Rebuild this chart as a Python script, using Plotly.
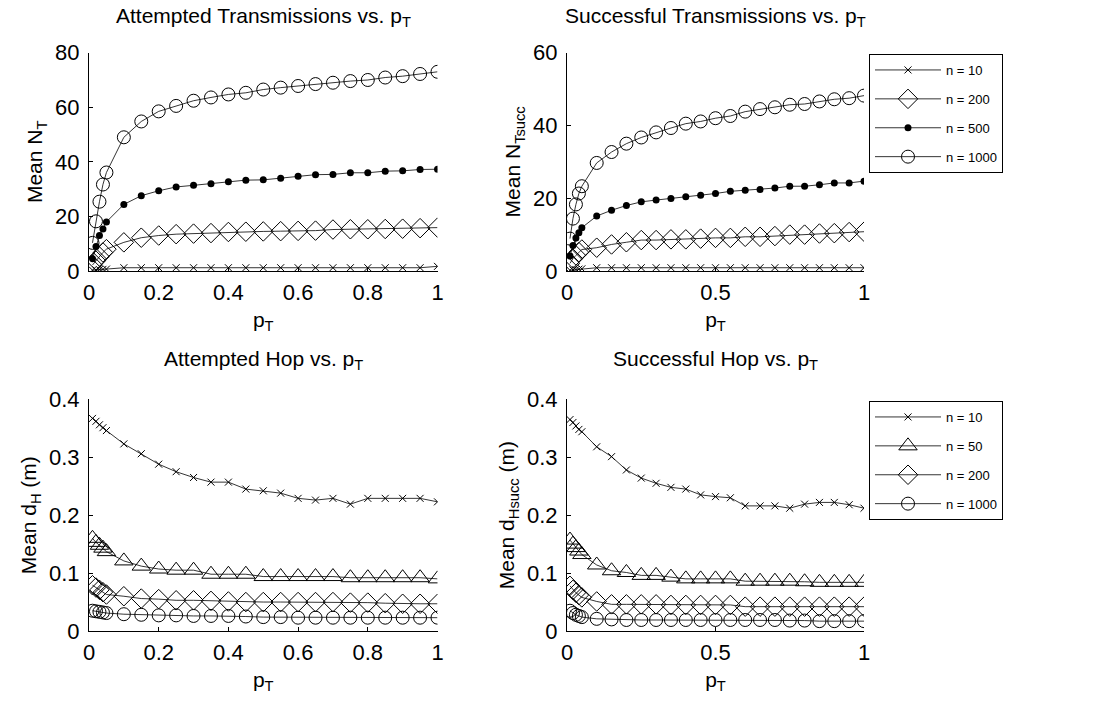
import plotly.graph_objects as go

# transmission probability values used in the simulations
p_T = [0.01, 0.02, 0.03, 0.04, 0.05, 0.10, 0.15, 0.20, 0.25, 0.30, 0.35, 0.40,
       0.45, 0.50, 0.55, 0.60, 0.65, 0.70, 0.75, 0.80, 0.85, 0.90, 0.95, 1.00]

# mean number of attempted transmissions
att_tx_n10 = [0.3, 0.4, 0.5, 0.6, 0.7, 1.2, 1.2, 1.2, 1.2, 1.2, 1.2, 1.2,
              1.2, 1.2, 1.2, 1.2, 1.2, 1.2, 1.2, 1.2, 1.2, 1.2, 1.2, 1.7]
att_tx_n200 = [2.2, 3.8, 5.3, 6.8, 8.0, 10.5, 12.2, 13.0, 13.5, 13.7, 13.9, 14.3,
               14.4, 14.5, 14.6, 14.7, 14.8, 15.2, 15.3, 15.3, 15.4, 15.5, 15.7, 15.9]
att_tx_n500 = [4.5, 9.0, 13.0, 15.4, 18.0, 24.4, 27.6, 29.4, 30.8, 31.4, 32.0, 32.7,
               33.3, 33.4, 34.0, 34.7, 35.3, 35.4, 36.0, 36.0, 36.6, 36.7, 37.2, 37.3]
att_tx_n1000 = [10.3, 18.2, 25.4, 31.7, 36.1, 49.0, 54.8, 58.5, 60.5, 62.4, 63.6, 64.7,
                65.3, 66.5, 67.2, 67.8, 68.5, 69.0, 69.6, 70.0, 70.9, 71.4, 72.2, 73.0]

# mean number of successful transmissions
suc_tx_n10 = [0.2, 0.3, 0.4, 0.5, 0.6, 0.9, 0.9, 0.9, 0.9, 0.9, 0.9, 0.9,
              0.9, 0.9, 0.9, 0.9, 0.9, 0.9, 0.9, 0.9, 0.9, 0.9, 0.9, 0.9]
suc_tx_n200 = [2.1, 3.4, 4.3, 5.2, 5.9, 6.4, 7.3, 7.9, 8.5, 8.5, 8.7, 8.7,
               8.9, 9.1, 9.1, 9.4, 9.4, 9.6, 10.0, 10.0, 10.3, 10.4, 10.7, 10.8]
suc_tx_n500 = [4.1, 7.0, 9.1, 10.5, 11.9, 15.1, 16.7, 18.0, 19.0, 19.5, 19.9, 20.4,
               20.8, 21.3, 21.9, 22.2, 22.4, 22.8, 23.3, 23.3, 23.7, 24.2, 24.2, 24.7]
suc_tx_n1000 = [8.9, 14.4, 18.3, 21.3, 23.3, 29.7, 32.7, 35.0, 36.7, 38.1, 39.3, 40.5,
                41.1, 42.0, 42.6, 43.8, 44.5, 45.0, 45.7, 45.9, 46.6, 47.2, 47.5, 48.2]

# mean attempted hop distance (m)
att_hop_n10 = [0.367, 0.362, 0.356, 0.351, 0.346, 0.323, 0.306, 0.288, 0.275, 0.265, 0.257, 0.257,
               0.245, 0.242, 0.238, 0.229, 0.226, 0.229, 0.219, 0.229, 0.229, 0.229, 0.229, 0.223]
att_hop_n50 = [0.160, 0.153, 0.148, 0.143, 0.137, 0.121, 0.112, 0.107, 0.105, 0.105, 0.098, 0.098,
               0.098, 0.094, 0.094, 0.094, 0.094, 0.094, 0.092, 0.092, 0.092, 0.092, 0.092, 0.090]
att_hop_n200 = [0.079, 0.075, 0.071, 0.067, 0.063, 0.060, 0.056, 0.055, 0.053, 0.053, 0.052, 0.051,
                0.050, 0.050, 0.050, 0.050, 0.050, 0.050, 0.049, 0.049, 0.048, 0.047, 0.047, 0.047]
att_hop_n1000 = [0.035, 0.034, 0.033, 0.032, 0.031, 0.029, 0.028, 0.027, 0.027, 0.026, 0.026, 0.026,
                 0.025, 0.024, 0.024, 0.023, 0.023, 0.023, 0.023, 0.023, 0.023, 0.023, 0.023, 0.023]

# mean successful hop distance (m)
suc_hop_n10 = [0.365, 0.360, 0.354, 0.348, 0.344, 0.318, 0.301, 0.278, 0.264, 0.255, 0.248, 0.245,
               0.235, 0.232, 0.230, 0.216, 0.216, 0.216, 0.212, 0.219, 0.222, 0.222, 0.218, 0.212]
suc_hop_n50 = [0.157, 0.150, 0.144, 0.138, 0.132, 0.114, 0.104, 0.101, 0.096, 0.096, 0.093, 0.090,
               0.090, 0.090, 0.090, 0.086, 0.086, 0.086, 0.086, 0.085, 0.084, 0.084, 0.084, 0.084]
suc_hop_n200 = [0.078, 0.071, 0.066, 0.062, 0.058, 0.051, 0.046, 0.046, 0.046, 0.046, 0.045, 0.045,
                0.045, 0.045, 0.045, 0.042, 0.042, 0.042, 0.042, 0.042, 0.042, 0.042, 0.042, 0.042]
suc_hop_n1000 = [0.035, 0.031, 0.028, 0.026, 0.024, 0.021, 0.020, 0.019, 0.019, 0.019, 0.019, 0.019,
                 0.019, 0.019, 0.019, 0.019, 0.019, 0.019, 0.018, 0.018, 0.017, 0.017, 0.017, 0.017]

W, H = 1114, 704
FONT = "Liberation Sans, Arial, sans-serif"


def fx(px):
    return px / W


def fy(py):
    return 1 - py / H


MARK = {
    "x": dict(symbol="x-thin-open", size=7, color="black", line=dict(width=1, color="black")),
    "diamond": dict(symbol="diamond-open", size=15, color="black", line=dict(width=1, color="black")),
    "dot": dict(symbol="circle", size=7, color="black", line=dict(width=0)),
    "circle": dict(symbol="circle-open", size=13, color="black", line=dict(width=1, color="black")),
    "triangle": dict(symbol="triangle-up-open", size=16, color="black", line=dict(width=1, color="black")),
}

panels = [
    # (x axis, y axis, series list, legend id)
    ("x", "y", [("n = 10", att_tx_n10, "x"), ("n = 200", att_tx_n200, "diamond"),
                ("n = 500", att_tx_n500, "dot"), ("n = 1000", att_tx_n1000, "circle")], None),
    ("x2", "y2", [("n = 10", suc_tx_n10, "x"), ("n = 200", suc_tx_n200, "diamond"),
                  ("n = 500", suc_tx_n500, "dot"), ("n = 1000", suc_tx_n1000, "circle")], "legend"),
    ("x3", "y3", [("n = 10", att_hop_n10, "x"), ("n = 50", att_hop_n50, "triangle"),
                  ("n = 200", att_hop_n200, "diamond"), ("n = 1000", att_hop_n1000, "circle")], None),
    ("x4", "y4", [("n = 10", suc_hop_n10, "x"), ("n = 50", suc_hop_n50, "triangle"),
                  ("n = 200", suc_hop_n200, "diamond"), ("n = 1000", suc_hop_n1000, "circle")], "legend2"),
]

fig = go.Figure()
for xa, ya, series, leg in panels:
    for name, vals, mk in series:
        fig.add_trace(go.Scatter(
            x=p_T, y=vals, name=name, mode="lines+markers",
            xaxis=xa, yaxis=ya,
            line=dict(color="black", width=0.8),
            marker=MARK[mk],
            showlegend=leg is not None,
            legend=leg if leg else "legend",
            legendgroup=f"{leg}-{name}",
        ))

tick_font = dict(family=FONT, size=22, color="black")
title_font = dict(family=FONT, size=21, color="black")


def x_axis(dom, anchor, dtick):
    return dict(domain=dom, anchor=anchor, range=[0, 1], dtick=dtick, tick0=0,
                automargin=False,
                showline=True, linecolor="black", linewidth=1, mirror=False,
                ticks="inside", ticklen=4, tickcolor="black", showgrid=False, zeroline=False,
                tickfont=tick_font, ticklabelstandoff=2,
                title=dict(text="p<sub>T</sub>", font=title_font, standoff=7))


def y_axis(dom, anchor, rng, dtick, label):
    return dict(domain=dom, anchor=anchor, range=rng, dtick=dtick, tick0=0,
                automargin=False,
                showline=True, linecolor="black", linewidth=1, mirror=False,
                ticks="inside", ticklen=4, tickcolor="black", showgrid=False, zeroline=False,
                tickfont=tick_font, ticklabelstandoff=4,
                title=dict(text=label, font=title_font, standoff=6))


top_y = [fy(271), fy(52.7)]
bot_y = [fy(631), fy(399.3)]
left_x = [fx(89), fx(437.5)]
right_x = [fx(567), fx(864)]

legend_style = dict(xanchor="left", yanchor="top",
                    bordercolor="black", borderwidth=1, bgcolor="white",
                    font=dict(family=FONT, size=13, color="black"),
                    itemwidth=66, tracegroupgap=9, traceorder="grouped")

fig.update_layout(
    width=W, height=H,
    margin=dict(l=0, r=0, t=0, b=0, autoexpand=False),
    paper_bgcolor="white", plot_bgcolor="white",
    font=dict(family=FONT, color="black"),
    xaxis=x_axis(left_x, "y", 0.2),
    yaxis=y_axis(top_y, "x", [0, 80], 20, "Mean N<sub>T</sub>"),
    xaxis2=x_axis(right_x, "y2", 0.5),
    yaxis2=y_axis(top_y, "x2", [0, 60], 20, "Mean N<sub>Tsucc</sub>"),
    xaxis3=x_axis(left_x, "y3", 0.2),
    yaxis3=y_axis(bot_y, "x3", [0, 0.4], 0.1, "Mean d<sub>H</sub> (m)"),
    xaxis4=x_axis(right_x, "y4", 0.5),
    yaxis4=y_axis(bot_y, "x4", [0, 0.4], 0.1, "Mean d<sub>Hsucc</sub> (m)"),
    legend=dict(x=fx(869), y=fy(54), **legend_style),
    legend2=dict(x=fx(869), y=fy(401), **legend_style),
)

titles = [
    ("Attempted Transmissions vs. p<sub>T</sub>", (89 + 437.5) / 2, 17),
    ("Successful Transmissions vs. p<sub>T</sub>", (567 + 864) / 2, 17),
    ("Attempted Hop vs. p<sub>T</sub>", (89 + 437.5) / 2, 360),
    ("Successful Hop vs. p<sub>T</sub>", (567 + 864) / 2, 360),
]
for text, cx, cy in titles:
    fig.add_annotation(text=text, x=fx(cx), y=fy(cy), xref="paper", yref="paper",
                       xanchor="center", yanchor="middle", showarrow=False,
                       font=dict(family=FONT, size=21, color="black"))

fig.write_html("out.html")
